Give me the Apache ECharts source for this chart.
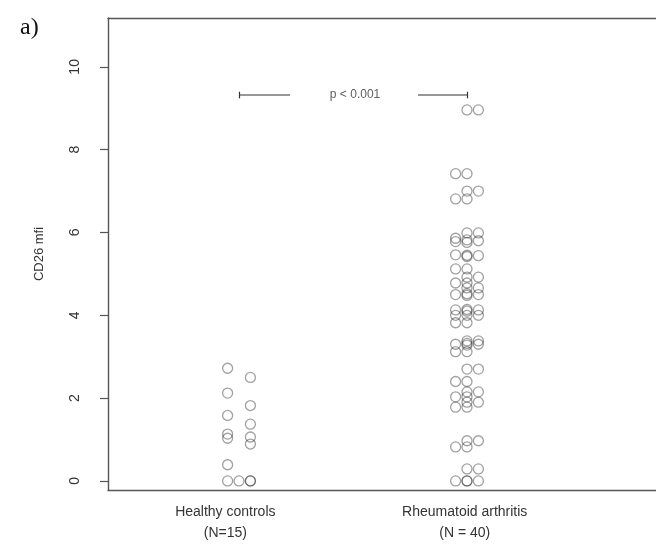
<!DOCTYPE html>
<html><head><meta charset="utf-8">
<script src="https://cdn.jsdelivr.net/npm/echarts@6/dist/echarts.min.js"></script>
<style>html,body{margin:0;padding:0;background:#fff}#c{width:656px;height:545px}</style>
</head><body><div id="c"></div>
<script>
// ---- data ----
const groupLabels = ['Healthy controls\n(N=15)', 'Rheumatoid arthritis\n(N = 40)'];
const groupLabelPos = [0.94, 1.99];
const yTicks = [0, 2, 4, 6, 8, 10];
// Healthy controls: values and stack slot (0 left, 1 middle, 2 right)
const hcValues = [2.72, 2.12, 1.58, 1.13, 1.03, 0.39, 0, 2.50, 1.82, 1.37, 1.06, 0.89, 0, 0, 0];
const hcSlot   = [0, 0, 0, 0, 0, 0, 0, 2, 2, 2, 2, 2, 2, 2, 1];
// Rheumatoid arthritis
const raValues = [
  8.96, 8.96,
  7.42, 7.42,
  7.00, 7.00,
  6.81, 6.81,
  5.99, 5.99,
  5.86, 5.78, 5.82, 5.76, 5.80,
  5.46, 5.45, 5.42, 5.44,
  5.12, 5.12,
  4.92, 4.92,
  4.78, 4.78,
  4.66, 4.66,
  4.50, 4.52, 4.48, 4.50,
  4.13, 4.14, 4.10, 4.13,
  4.00, 4.00, 4.00,
  3.82, 3.82,
  3.38, 3.38,
  3.30, 3.32, 3.28, 3.30,
  3.12, 3.12,
  2.70, 2.70,
  2.40, 2.40,
  2.15, 2.15,
  2.03, 2.03,
  1.90, 1.90,
  1.78, 1.78,
  0.97, 0.97,
  0.82, 0.82,
  0.29, 0.29,
  0, 0, 0, 0
];
const raSlot = [
  1, 2,
  0, 1,
  1, 2,
  0, 1,
  1, 2,
  0, 0, 1, 1, 2,
  0, 1, 1, 2,
  0, 1,
  1, 2,
  0, 1,
  1, 2,
  0, 1, 1, 2,
  0, 1, 1, 2,
  0, 1, 2,
  0, 1,
  1, 2,
  0, 1, 1, 2,
  0, 1,
  1, 2,
  0, 1,
  1, 2,
  0, 1,
  1, 2,
  0, 1,
  1, 2,
  0, 1,
  1, 2,
  0, 1, 1, 2
];
const pText = 'p < 0.001';
const pY = 9.32;

// ---- build ----
const slotStep = 0.05;
function pts(center, vals, slots) {
  return vals.map((v, i) => [center + (slots[i] - 1) * slotStep, v]);
}
const chart = echarts.init(document.getElementById('c'), null, {renderer: 'canvas'});
const axisColor = '#555';
const textColor = '#333';
const font = 'Liberation Sans, Arial, sans-serif';
const circleStyle = {color: 'rgba(0,0,0,0)', borderColor: 'rgba(40,40,40,0.55)', borderWidth: 1.3};
const xMin = 0.4254, xMax = 2.829;
const boxLine = {show: true, onZero: false, lineStyle: {color: axisColor, width: 1.4}};
chart.setOption({
  animation: false,
  backgroundColor: '#fff',
  grid: {left: 108, top: 18, right: 0, bottom: 55, show: false},
  xAxis: [{
    type: 'value', min: xMin, max: xMax, position: 'bottom',
    axisLine: boxLine, splitLine: {show: false}, axisTick: {show: false},
    axisLabel: {customValues: groupLabelPos, formatter: v => groupLabels[groupLabelPos.indexOf(v)] || '',
      color: textColor, fontFamily: font, fontSize: 14, lineHeight: 21, margin: 12}
  }, {
    type: 'value', min: xMin, max: xMax, position: 'top',
    axisLine: boxLine, splitLine: {show: false}, axisTick: {show: false}, axisLabel: {show: false}
  }],
  yAxis: {
    type: 'value', min: -0.22, max: 11.18,
    name: 'CD26 mfi', nameLocation: 'middle', nameGap: 62,
    nameTextStyle: {color: textColor, fontFamily: font, fontSize: 13},
    axisLine: boxLine, splitLine: {show: false},
    axisTick: {show: true, customValues: yTicks, length: 8, lineStyle: {color: axisColor, width: 1.2}},
    axisLabel: {customValues: yTicks, rotate: 90, color: textColor, fontFamily: font, fontSize: 14, margin: 26}
  },
  series: [
    {type: 'scatter', symbol: 'circle', symbolSize: 10, itemStyle: circleStyle, data: pts(1, hcValues, hcSlot), z: 3},
    {type: 'scatter', symbol: 'circle', symbolSize: 10, itemStyle: circleStyle, data: pts(2, raValues, raSlot), z: 3},
    {type: 'line', data: [[1, pY], [1.224, pY]], symbol: 'none', lineStyle: {color: '#333', width: 1.2}, z: 2,
      markLine: {silent: true, symbol: 'none', label: {show: false}, lineStyle: {color: '#333', width: 1.2, type: 'solid'},
        data: [[{coord: [1, pY - 0.08]}, {coord: [1, pY + 0.08]}]]}},
    {type: 'line', data: [[1.785, pY], [2, pY]], symbol: 'none', lineStyle: {color: '#333', width: 1.2}, z: 2,
      markLine: {silent: true, symbol: 'none', label: {show: false}, lineStyle: {color: '#333', width: 1.2, type: 'solid'},
        data: [[{coord: [2, pY - 0.08]}, {coord: [2, pY + 0.08]}]]}},
    {type: 'scatter', data: [[1.509, pY]], symbolSize: 0, silent: true,
      label: {show: true, position: 'inside', formatter: pText, color: '#333', fontFamily: font, fontSize: 12}}
  ],
  graphic: [{type: 'text', left: 20, top: 16, style: {text: 'a)', font: '24px "Liberation Serif", "Times New Roman", serif', fill: '#111'}}]
});
</script></body></html>
